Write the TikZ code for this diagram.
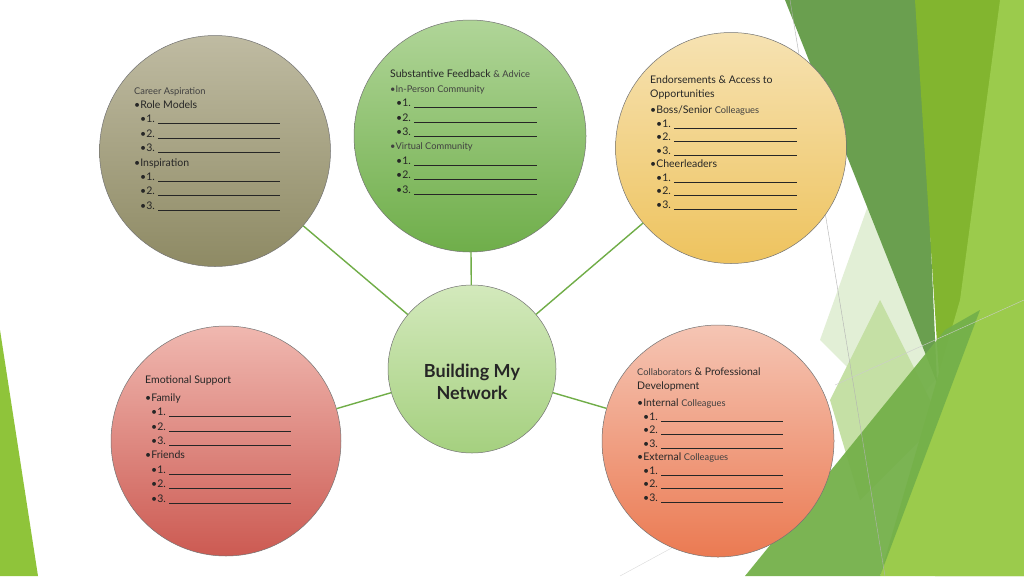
\documentclass[tikz,border=0pt]{standalone}
\usepackage{fontspec}
\setmainfont{Lato}
\definecolor{lnk}{HTML}{70AD47}
\definecolor{txd}{HTML}{262626}
\definecolor{txg}{HTML}{404040}
\definecolor{bgA}{HTML}{6A9F4F}
\definecolor{bgB}{HTML}{82B52F}
\definecolor{bgC}{HTML}{9BCB4C}
\definecolor{bgD}{HTML}{74B04A}
\definecolor{bgE}{HTML}{8FC43A}
\definecolor{bgP}{HTML}{C5E0A5}
\definecolor{bgQ}{HTML}{E2EFD6}
\definecolor{tanT}{HTML}{BFBBA2}
\definecolor{tanB}{HTML}{8E8A64}
\definecolor{grT}{HTML}{B0D598}
\definecolor{grB}{HTML}{6FAE4A}
\definecolor{yeT}{HTML}{F6E2B2}
\definecolor{yeB}{HTML}{EEC35E}
\definecolor{ceT}{HTML}{D3E9BC}
\definecolor{ceB}{HTML}{A5D07F}
\definecolor{reT}{HTML}{F0B8B0}
\definecolor{reB}{HTML}{CC5A52}
\definecolor{saT}{HTML}{F5C5B4}
\definecolor{saB}{HTML}{EB7A52}
\newcommand{\blnk}[1]{\rule[-1pt]{#1pt}{0.6pt}}
\newcommand{\sm}[1]{{\fontsize{9.3}{14.4}\selectfont\color{txg}#1}}
\newcommand{\itm}[2]{\hspace*{6pt}\textbullet#1. \blnk{#2}}
\begin{document}
\begin{tikzpicture}[x=1pt,y=-1pt,
  circ/.style={circle,draw=black!55,line width=0.5pt,shading=axis,shading angle=0},
  blk/.style={anchor=north west,inner sep=0pt,align=left,text=txd,font=\fontsize{10.5}{14.4}\selectfont},
  link/.style={draw=lnk,line width=1.4pt}]
\useasboundingbox (0,0) rectangle (1024,576);
\fill[white] (0,0) rectangle (1024,576);
% background decoration
\fill[bgQ] (820,340) -- (870,200) -- (935,380) -- (900,420) -- cycle;
\fill[bgP] (830,400) -- (880,300) -- (940,420) -- (860,500) -- cycle;
\fill[bgA] (785,0) -- (920,0) -- (937,383) -- cycle;
\fill[bgB] (915,0) -- (1000,0) -- (1024,130) -- (1024,576) -- (935,576) -- (940,390) -- cycle;
\fill[bgC] (1000,0) -- (1024,0) -- (1024,576) -- (880,576) -- (960,300) -- cycle;
\fill[bgD,opacity=0.95] (745,576) -- (945,330) -- (980,310) -- (880,576) -- cycle;
\fill[bgE] (0,330) -- (38,576) -- (0,576) -- cycle;
\draw[black!30,line width=0.4pt] (790,0) -- (885,576);
\draw[black!20,line width=0.4pt] (835,385) -- (1024,300);
\draw[black!15,line width=0.4pt] (620,576) -- (760,500);
% circles
\node[circ,minimum size=168pt,top color=ceT,bottom color=ceB] (cen) at (472,369) {};
\node[circ,minimum size=231pt,top color=tanT,bottom color=tanB] (car) at (215,151) {};
\node[circ,minimum size=232pt,top color=grT,bottom color=grB] (sub) at (470,136) {};
\node[circ,minimum size=231pt,top color=yeT,bottom color=yeB] (end) at (731,148) {};
\node[circ,minimum size=230pt,top color=reT,bottom color=reB] (emo) at (226,441) {};
\node[circ,minimum size=232pt,top color=saT,bottom color=saB] (col) at (718,441) {};
\foreach \t in {car,sub,end,emo,col} \draw[link] (cen) -- (\t);
% texts
\node[align=center,text=txd,font=\fontsize{18}{22}\selectfont] (cenT) at (472,382) {\textbf{Building My}\\\textbf{Network}};
\node[blk] (carT) at (134,87) {\sm{Career Aspiration}\\\textbullet Role Models\\\itm{1}{122}\\\itm{2}{122}\\\itm{3}{122}\\\textbullet Inspiration\\\itm{1}{122}\\\itm{2}{122}\\\itm{3}{122}};
\node[blk] (subT) at (390,70) {Substantive Feedback \sm{\& Advice}\\\sm{\textbullet In-Person Community}\\\itm{1}{123}\\\itm{2}{123}\\\itm{3}{123}\\\sm{\textbullet Virtual Community}\\\itm{1}{123}\\\itm{2}{123}\\\itm{3}{123}};
\node[blk,font=\fontsize{10.5}{13.5}\selectfont] (endT) at (650,76) {Endorsements \& Access to\\Opportunities\\[3pt]\textbullet Boss/Senior \sm{Colleagues}\\\itm{1}{123}\\\itm{2}{123}\\\itm{3}{123}\\\textbullet Cheerleaders\\\itm{1}{123}\\\itm{2}{123}\\\itm{3}{123}};
\node[blk] (emoT) at (145,376) {Emotional Support\\[3pt]\textbullet Family\\\itm{1}{122}\\\itm{2}{122}\\\itm{3}{122}\\\textbullet Friends\\\itm{1}{122}\\\itm{2}{122}\\\itm{3}{122}};
\node[blk,font=\fontsize{10.5}{13.5}\selectfont] (colT) at (637,368) {\sm{Collaborators} \& Professional\\Development\\[4pt]\textbullet Internal \sm{Colleagues}\\\itm{1}{122}\\\itm{2}{122}\\\itm{3}{122}\\\textbullet External \sm{Colleagues}\\\itm{1}{122}\\\itm{2}{122}\\\itm{3}{122}};
\end{tikzpicture}
\end{document}
